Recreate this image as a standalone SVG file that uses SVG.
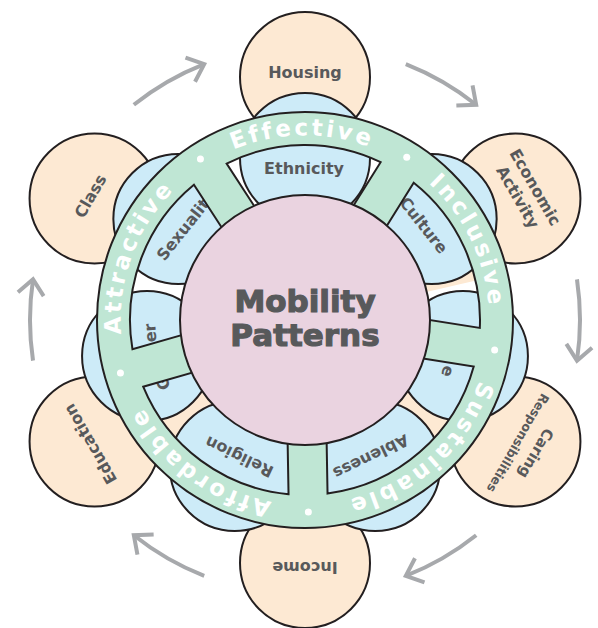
<svg xmlns="http://www.w3.org/2000/svg" width="598" height="628" viewBox="0 0 598 628">
<defs>
<style>
.peach{fill:#fde9d3;stroke:#231f20;stroke-width:2}
.blue{fill:#cdebf8;stroke:#231f20;stroke-width:2}
.gap{fill:#fde9d3}
.wheel{fill:#bfe6d4;stroke:#231f20;stroke-width:2;fill-rule:evenodd}
.hub{fill:#ead3e0;stroke:#231f20;stroke-width:2}
.lbl{font-family:"DejaVu Sans",sans-serif;font-weight:bold;font-size:16px;fill:#58595b;text-anchor:middle}
.ring{font-family:"DejaVu Sans",sans-serif;font-weight:bold;font-size:23px;fill:#ffffff;letter-spacing:3px;text-anchor:middle}
.dot{fill:#ffffff}
.arrow{fill:none;stroke:#a7a9ac;stroke-width:4;marker-end:url(#ah)}
.title{font-family:"DejaVu Sans",sans-serif;font-weight:bold;font-size:31px;fill:#58595b;stroke:#58595b;stroke-width:1.2;text-anchor:middle}
</style>
<marker id="ah" markerUnits="userSpaceOnUse" orient="auto" markerWidth="40" markerHeight="40" viewBox="-20 -20 40 40" refX="0" refY="0" overflow="visible"><path d="M-15,-13 L0,0 L-15,13" fill="none" stroke="#a7a9ac" stroke-width="4"/></marker>
<path id="rp" d="M 128.13 370.72 A 184 184 0 1 1 481.87 269.28 A 184 184 0 1 1 128.13 370.72"/>
</defs>

<g id="connectors">
<path class="arrow" d="M 133.81 104.78 A 275 275 0 0 1 204.21 64.13"/>
<path class="arrow" d="M 405.79 64.13 A 275 275 0 0 1 476.19 104.78"/>
<path class="arrow" d="M 576.98 279.35 A 275 275 0 0 1 576.98 360.65"/>
<path class="arrow" d="M 476.19 535.22 A 275 275 0 0 1 405.79 575.87"/>
<path class="arrow" d="M 204.21 575.87 A 275 275 0 0 1 133.81 535.22"/>
<path class="arrow" d="M 33.02 360.65 A 275 275 0 0 1 33.02 279.35"/>
</g>

<g id="node-housing"><circle class="peach" cx="305" cy="77" r="65"/><text class="lbl" transform="translate(305,72)" dy="0.36em">Housing</text></g>
<g id="node-economic-activity"><circle class="peach" cx="515.44" cy="198.5" r="65"/><text class="lbl" transform="translate(535.36,187) rotate(60)" dy="0.36em">Economic</text><text class="lbl" transform="translate(518.04,197) rotate(60)" dy="0.36em">Activity</text></g>
<g id="node-caring-responsibilities"><circle class="peach" cx="515.44" cy="441.5" r="65"/><text class="lbl" style="font-size:15px" transform="translate(536.2,453.5) rotate(120)" dy="0.36em">Caring</text><text class="lbl" style="font-size:12.5px" transform="translate(518.04,443) rotate(120)" dy="0.36em">Responsibilities</text></g>
<g id="node-income"><circle class="peach" cx="305" cy="563" r="65"/><text class="lbl" transform="translate(305,568) rotate(180)" dy="0.36em">Income</text></g>
<g id="node-education"><circle class="peach" cx="94.56" cy="441.5" r="65"/><text class="lbl" transform="translate(90.23,444) rotate(240)" dy="0.36em">Education</text></g>
<g id="node-class"><circle class="peach" cx="94.56" cy="198.5" r="65"/><text class="lbl" transform="translate(90.23,196) rotate(-60)" dy="0.36em">Class</text></g>

<g id="gap-fills">
<path class="gap" d="M 460.88 410 A 180 180 0 0 1 425.44 453.77 L 385.30 409.18 A 120 120 0 0 0 408.92 380 Z"/>
<path class="gap" d="M 184.56 453.77 A 180 180 0 0 1 149.12 410 L 201.08 380 A 120 120 0 0 0 224.70 409.18 Z"/>
<path class="gap" d="M 468.14 243.93 A 180 180 0 0 1 480.39 279.51 L 421.92 293.01 A 120 120 0 0 0 413.76 269.29 Z"/>
</g>

<g id="node-ethnicity"><circle class="blue" cx="305" cy="158" r="65"/><text class="lbl" transform="translate(304,168)" dy="0.36em">Ethnicity</text></g>
<g id="node-culture"><circle class="blue" cx="431.66" cy="218.99" r="65"/><text class="lbl" transform="translate(423.84,225.23) rotate(51.43)" dy="0.36em">Culture</text></g>
<g id="node-age"><circle class="blue" cx="462.94" cy="356.05" r="65"/><text class="lbl" transform="translate(448,371.5) rotate(109.8)" dy="0.36em">e</text></g>
<g id="node-ableness"><circle class="blue" cx="375.29" cy="465.96" r="65"/><text class="lbl" transform="translate(370.95,456.95) rotate(154.29)" dy="0.36em">Ableness</text></g>
<g id="node-religion"><circle class="blue" cx="234.71" cy="465.96" r="65"/><text class="lbl" transform="translate(239.05,456.95) rotate(205.71)" dy="0.36em">Religion</text></g>
<g id="node-gender"><circle class="blue" cx="147.06" cy="356.05" r="65"/><text class="lbl" transform="translate(150.05,333.01) rotate(265.2)" dy="0.36em">er</text><text class="lbl" transform="translate(162.95,383.25) rotate(246)" dy="0.36em">G</text></g>
<g id="node-sexuality"><circle class="blue" cx="178.34" cy="218.99" r="65"/><text class="lbl" style="text-anchor:start" transform="translate(159.9,258.2) rotate(-51.43)" dy="0.36em">Sexualit</text></g>

<g id="wheel">
<path class="wheel" d="M 97 320 A 208 208 0 1 1 513 320 A 208 208 0 1 1 97 320 Z
M 262.39 218.59 L 226.63 163.53 A 175 175 0 0 1 380.62 162.18 L 345.83 217.86 A 110 110 0 0 0 262.39 218.59 Z
M 378.91 238.52 L 413.70 182.84 A 175 175 0 0 1 479.82 327.95 L 414.98 317.68 A 110 110 0 0 0 378.91 238.52 Z
M 408.88 356.20 L 473.72 366.47 A 175 175 0 0 1 327.53 493.54 L 326.39 427.90 A 110 110 0 0 0 408.88 356.20 Z
M 287.39 428.58 L 288.54 494.22 A 175 175 0 0 1 143.20 386.68 L 206.31 368.59 A 110 110 0 0 0 287.39 428.58 Z
M 195.56 331.10 L 132.45 349.19 A 175 175 0 0 1 193.93 184.77 L 229.69 239.83 A 110 110 0 0 0 195.56 331.10 Z"/>
<circle class="dot" cx="200.43" cy="158.98" r="3.5"/>
<circle class="dot" cx="406.74" cy="157.17" r="3.5"/>
<circle class="dot" cx="494.64" cy="350.03" r="3.5"/>
<circle class="dot" cx="308.35" cy="511.97" r="3.5"/>
<circle class="dot" cx="120.44" cy="372.92" r="3.5"/>
<text class="ring"><textPath href="#rp" startOffset="117.2">Attractive</textPath></text>
<text class="ring"><textPath href="#rp" startOffset="338.2">Effective</textPath></text>
<text class="ring"><textPath href="#rp" startOffset="547.5">Inclusive</textPath></text>
<text class="ring"><textPath href="#rp" startOffset="785.2">Sustainable</textPath></text>
<text class="ring"><textPath href="#rp" startOffset="1037.3">Affordable</textPath></text>
</g>

<g id="node-mobility-patterns">
<circle class="hub" cx="305" cy="320" r="125"/>
<text class="title" x="305" y="312">Mobility</text>
<text class="title" x="305" y="346">Patterns</text>
</g>
</svg>
